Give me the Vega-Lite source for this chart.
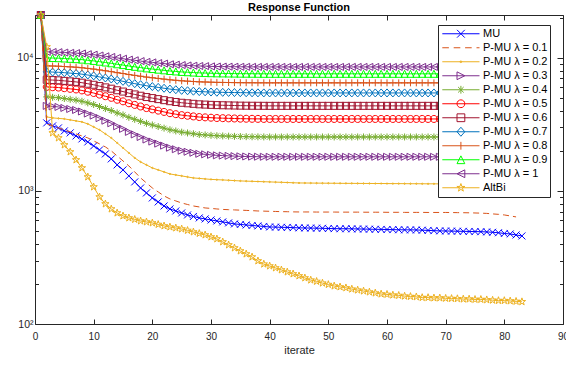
{
  "$schema": "https://vega.github.io/schema/vega-lite/v6.json",
  "width": 528,
  "height": 309,
  "autosize": {"type": "none"},
  "padding": {"left": 35, "top": 15, "right": 3, "bottom": 41},
  "title": {"text": "Response Function", "font": "Liberation Sans", "fontSize": 11, "fontWeight": "bold", "color": "#000000", "offset": -4, "anchor": "middle"},
  "config": {
    "view": {"stroke": null},
    "axis": {"domainColor": "#262626", "tickColor": "#262626", "labelColor": "#262626", "titleColor": "#262626", "labelFont": "Liberation Sans", "titleFont": "Liberation Sans", "grid": false, "domainWidth": 1, "tickWidth": 1}
  },
  "data": {"values": [
    {"it":1,"MU":21000,"L1":21000,"L2":21000,"L3":21000,"L4":21000,"L5":21000,"L6":21000,"L7":21000,"L8":21000,"L9":21000,"L10":21000,"AB":21000},
    {"it":2,"MU":3246,"L1":3189,"L2":3601,"L3":4355,"L4":5090,"L5":6050,"L6":6840,"L7":7850,"L8":8710,"L9":10000,"L10":11100,"AB":12096},
    {"it":3,"MU":3082,"L1":3082,"L2":3540,"L3":4317,"L4":5055,"L5":6017,"L6":6809,"L7":7821,"L8":8685,"L9":9970,"L10":11070,"AB":2730},
    {"it":4,"MU":2977,"L1":2977,"L2":3509,"L3":4278,"L4":5020,"L5":5983,"L6":6779,"L7":7792,"L8":8660,"L9":9945,"L10":11040,"AB":2503},
    {"it":5,"MU":2826,"L1":2875,"L2":3479,"L3":4204,"L4":4951,"L5":5918,"L6":6718,"L7":7737,"L8":8608,"L9":9890,"L10":10960,"AB":2218},
    {"it":6,"MU":2730,"L1":2777,"L2":3419,"L3":4130,"L4":4883,"L5":5851,"L6":6657,"L7":7680,"L8":8557,"L9":9835,"L10":10910,"AB":1965},
    {"it":7,"MU":2591,"L1":2683,"L2":3360,"L3":4059,"L4":4816,"L5":5787,"L6":6597,"L7":7626,"L8":8507,"L9":9780,"L10":10860,"AB":1711},
    {"it":8,"MU":2460,"L1":2591,"L2":3302,"L3":3953,"L4":4716,"L5":5692,"L6":6508,"L7":7541,"L8":8431,"L9":9700,"L10":10790,"AB":1489},
    {"it":9,"MU":2335,"L1":2503,"L2":3189,"L3":3815,"L4":4588,"L5":5567,"L6":6392,"L7":7433,"L8":8333,"L9":9594,"L10":10660,"AB":1274},
    {"it":10,"MU":2179,"L1":2376,"L2":3029,"L3":3682,"L4":4462,"L5":5445,"L6":6278,"L7":7326,"L8":8236,"L9":9489,"L10":10570,"AB":1072},
    {"it":11,"MU":2034,"L1":2256,"L2":2875,"L3":3524,"L4":4309,"L5":5296,"L6":6138,"L7":7194,"L8":8116,"L9":9359,"L10":10420,"AB":901},
    {"it":12,"MU":1898,"L1":2142,"L2":2683,"L3":3372,"L4":4163,"L5":5150,"L6":6001,"L7":7064,"L8":7997,"L9":9230,"L10":10280,"AB":799},
    {"it":13,"MU":1741,"L1":1999,"L2":2503,"L3":3227,"L4":4021,"L5":5009,"L6":5867,"L7":6937,"L8":7880,"L9":9104,"L10":10160,"AB":732},
    {"it":14,"MU":1569,"L1":1833,"L2":2296,"L3":3060,"L4":3857,"L5":4845,"L6":5710,"L7":6787,"L8":7742,"L9":8950,"L10":10000,"AB":683},
    {"it":15,"MU":1439,"L1":1681,"L2":2106,"L3":2928,"L4":3727,"L5":4712,"L6":5582,"L7":6665,"L8":7629,"L9":8830,"L10":9860,"AB":649},
    {"it":16,"MU":1297,"L1":1542,"L2":1931,"L3":2778,"L4":3574,"L5":4558,"L6":5433,"L7":6521,"L8":7495,"L9":8685,"L10":9700,"AB":627},
    {"it":17,"MU":1169,"L1":1390,"L2":1771,"L3":2658,"L4":3452,"L5":4433,"L6":5312,"L7":6403,"L8":7386,"L9":8565,"L10":9590,"AB":611},
    {"it":18,"MU":1053,"L1":1252,"L2":1652,"L3":2543,"L4":3334,"L5":4312,"L6":5193,"L7":6288,"L8":7278,"L9":8450,"L10":9460,"AB":595},
    {"it":19,"MU":966,"L1":1148,"L2":1569,"L3":2433,"L4":3220,"L5":4194,"L6":5077,"L7":6175,"L8":7172,"L9":8335,"L10":9330,"AB":585},
    {"it":20,"MU":886,"L1":1053,"L2":1489,"L3":2349,"L4":3133,"L5":4102,"L6":4987,"L7":6086,"L8":7088,"L9":8240,"L10":9250,"AB":575},
    {"it":21,"MU":827,"L1":983,"L2":1439,"L3":2268,"L4":3048,"L5":4013,"L6":4898,"L7":5999,"L8":7006,"L9":8150,"L10":9140,"AB":560},
    {"it":22,"MU":771,"L1":917,"L2":1390,"L3":2190,"L4":2964,"L5":3925,"L6":4811,"L7":5912,"L8":6924,"L9":8060,"L10":9060,"AB":546},
    {"it":23,"MU":732,"L1":871,"L2":1342,"L3":2113,"L4":2883,"L5":3839,"L6":4725,"L7":5827,"L8":6843,"L9":7970,"L10":8950,"AB":536},
    {"it":24,"MU":707,"L1":841,"L2":1319,"L3":2058,"L4":2824,"L5":3775,"L6":4661,"L7":5764,"L8":6783,"L9":7907,"L10":8890,"AB":527},
    {"it":25,"MU":683,"L1":812,"L2":1297,"L3":2005,"L4":2766,"L5":3713,"L6":4598,"L7":5702,"L8":6724,"L9":7840,"L10":8830,"AB":518},
    {"it":26,"MU":660,"L1":791,"L2":1274,"L3":1969,"L4":2728,"L5":3672,"L6":4557,"L7":5660,"L8":6684,"L9":7800,"L10":8770,"AB":505},
    {"it":27,"MU":643,"L1":771,"L2":1252,"L3":1935,"L4":2690,"L5":3632,"L6":4516,"L7":5619,"L8":6644,"L9":7757,"L10":8730,"AB":492},
    {"it":28,"MU":627,"L1":758,"L2":1242,"L3":1901,"L4":2653,"L5":3592,"L6":4476,"L7":5579,"L8":6605,"L9":7714,"L10":8690,"AB":479},
    {"it":29,"MU":616,"L1":745,"L2":1231,"L3":1884,"L4":2635,"L5":3572,"L6":4455,"L7":5558,"L8":6586,"L9":7690,"L10":8670,"AB":467},
    {"it":30,"MU":605,"L1":739,"L2":1221,"L3":1867,"L4":2617,"L5":3552,"L6":4435,"L7":5538,"L8":6566,"L9":7670,"L10":8630,"AB":451},
    {"it":31,"MU":595,"L1":732,"L2":1215,"L3":1851,"L4":2598,"L5":3532,"L6":4415,"L7":5518,"L8":6546,"L9":7650,"L10":8610,"AB":436},
    {"it":32,"MU":585,"L1":726,"L2":1210,"L3":1843,"L4":2590,"L5":3522,"L6":4405,"L7":5508,"L8":6537,"L9":7640,"L10":8600,"AB":414},
    {"it":33,"MU":575,"L1":723,"L2":1203,"L3":1835,"L4":2581,"L5":3512,"L6":4395,"L7":5498,"L8":6527,"L9":7630,"L10":8590,"AB":393},
    {"it":34,"MU":565,"L1":720,"L2":1196,"L3":1827,"L4":2572,"L5":3503,"L6":4385,"L7":5488,"L8":6517,"L9":7620,"L10":8580,"AB":373},
    {"it":35,"MU":560,"L1":717,"L2":1189,"L3":1820,"L4":2563,"L5":3493,"L6":4375,"L7":5478,"L8":6508,"L9":7610,"L10":8570,"AB":354},
    {"it":36,"MU":555,"L1":714,"L2":1185,"L3":1815,"L4":2558,"L5":3488,"L6":4370,"L7":5470,"L8":6503,"L9":7605,"L10":8565,"AB":336},
    {"it":37,"MU":550,"L1":711,"L2":1181,"L3":1811,"L4":2554,"L5":3484,"L6":4367,"L7":5464,"L8":6499,"L9":7600,"L10":8560,"AB":319},
    {"it":38,"MU":546,"L1":707,"L2":1177,"L3":1808,"L4":2550,"L5":3480,"L6":4364,"L7":5458,"L8":6495,"L9":7595,"L10":8555,"AB":298},
    {"it":39,"MU":541,"L1":705,"L2":1173,"L3":1806,"L4":2547,"L5":3477,"L6":4362,"L7":5453,"L8":6492,"L9":7590,"L10":8550,"AB":282},
    {"it":40,"MU":536,"L1":703,"L2":1169,"L3":1805,"L4":2545,"L5":3475,"L6":4360,"L7":5450,"L8":6490,"L9":7590,"L10":8550,"AB":273},
    {"it":41,"MU":535,"L1":701,"L2":1165,"L3":1805,"L4":2545,"L5":3475,"L6":4360,"L7":5450,"L8":6490,"L9":7590,"L10":8550,"AB":264},
    {"it":42,"MU":533,"L1":699,"L2":1161,"L3":1805,"L4":2545,"L5":3475,"L6":4360,"L7":5450,"L8":6490,"L9":7590,"L10":8550,"AB":255},
    {"it":43,"MU":532,"L1":698,"L2":1157,"L3":1805,"L4":2545,"L5":3475,"L6":4360,"L7":5450,"L8":6490,"L9":7590,"L10":8550,"AB":246},
    {"it":44,"MU":530,"L1":696,"L2":1152,"L3":1805,"L4":2545,"L5":3475,"L6":4360,"L7":5450,"L8":6490,"L9":7590,"L10":8550,"AB":238},
    {"it":45,"MU":528,"L1":695,"L2":1148,"L3":1805,"L4":2545,"L5":3475,"L6":4360,"L7":5450,"L8":6490,"L9":7590,"L10":8550,"AB":230},
    {"it":46,"MU":527,"L1":695,"L2":1147,"L3":1805,"L4":2545,"L5":3475,"L6":4360,"L7":5450,"L8":6490,"L9":7590,"L10":8550,"AB":222},
    {"it":47,"MU":526,"L1":695,"L2":1146,"L3":1805,"L4":2545,"L5":3475,"L6":4360,"L7":5450,"L8":6490,"L9":7590,"L10":8550,"AB":214},
    {"it":48,"MU":525,"L1":694,"L2":1145,"L3":1805,"L4":2545,"L5":3475,"L6":4360,"L7":5450,"L8":6490,"L9":7590,"L10":8550,"AB":209},
    {"it":49,"MU":524,"L1":694,"L2":1144,"L3":1805,"L4":2545,"L5":3475,"L6":4360,"L7":5450,"L8":6490,"L9":7590,"L10":8550,"AB":203},
    {"it":50,"MU":522,"L1":694,"L2":1143,"L3":1805,"L4":2545,"L5":3475,"L6":4360,"L7":5450,"L8":6490,"L9":7590,"L10":8550,"AB":198},
    {"it":51,"MU":521,"L1":694,"L2":1142,"L3":1805,"L4":2545,"L5":3475,"L6":4360,"L7":5450,"L8":6490,"L9":7590,"L10":8550,"AB":193},
    {"it":52,"MU":520,"L1":693,"L2":1141,"L3":1805,"L4":2545,"L5":3475,"L6":4360,"L7":5450,"L8":6490,"L9":7590,"L10":8550,"AB":190},
    {"it":53,"MU":520,"L1":693,"L2":1140,"L3":1805,"L4":2545,"L5":3475,"L6":4360,"L7":5450,"L8":6490,"L9":7590,"L10":8550,"AB":187},
    {"it":54,"MU":519,"L1":693,"L2":1140,"L3":1805,"L4":2545,"L5":3475,"L6":4360,"L7":5450,"L8":6490,"L9":7590,"L10":8550,"AB":183},
    {"it":55,"MU":518,"L1":693,"L2":1139,"L3":1805,"L4":2545,"L5":3475,"L6":4360,"L7":5450,"L8":6490,"L9":7590,"L10":8550,"AB":180},
    {"it":56,"MU":517,"L1":692,"L2":1138,"L3":1805,"L4":2545,"L5":3475,"L6":4360,"L7":5450,"L8":6490,"L9":7590,"L10":8550,"AB":177},
    {"it":57,"MU":516,"L1":692,"L2":1138,"L3":1805,"L4":2545,"L5":3475,"L6":4360,"L7":5450,"L8":6490,"L9":7590,"L10":8550,"AB":174},
    {"it":58,"MU":515,"L1":692,"L2":1137,"L3":1805,"L4":2545,"L5":3475,"L6":4360,"L7":5450,"L8":6490,"L9":7590,"L10":8550,"AB":171},
    {"it":59,"MU":514,"L1":692,"L2":1137,"L3":1805,"L4":2545,"L5":3475,"L6":4360,"L7":5450,"L8":6490,"L9":7590,"L10":8550,"AB":168},
    {"it":60,"MU":513,"L1":691,"L2":1136,"L3":1805,"L4":2545,"L5":3475,"L6":4360,"L7":5450,"L8":6490,"L9":7590,"L10":8550,"AB":167},
    {"it":61,"MU":512,"L1":691,"L2":1135,"L3":1805,"L4":2545,"L5":3475,"L6":4360,"L7":5450,"L8":6490,"L9":7590,"L10":8550,"AB":165},
    {"it":62,"MU":511,"L1":691,"L2":1135,"L3":1805,"L4":2545,"L5":3475,"L6":4360,"L7":5450,"L8":6490,"L9":7590,"L10":8550,"AB":164},
    {"it":63,"MU":510,"L1":690,"L2":1134,"L3":1805,"L4":2545,"L5":3475,"L6":4360,"L7":5450,"L8":6490,"L9":7590,"L10":8550,"AB":162},
    {"it":64,"MU":510,"L1":690,"L2":1133,"L3":1805,"L4":2545,"L5":3475,"L6":4360,"L7":5450,"L8":6490,"L9":7590,"L10":8550,"AB":161},
    {"it":65,"MU":509,"L1":690,"L2":1133,"L3":1805,"L4":2545,"L5":3475,"L6":4360,"L7":5450,"L8":6490,"L9":7590,"L10":8550,"AB":160},
    {"it":66,"MU":507,"L1":690,"L2":1132,"L3":1805,"L4":2545,"L5":3475,"L6":4360,"L7":5450,"L8":6490,"L9":7590,"L10":8550,"AB":158},
    {"it":67,"MU":505,"L1":689,"L2":1131,"L3":1805,"L4":2545,"L5":3475,"L6":4360,"L7":5450,"L8":6490,"L9":7590,"L10":8550,"AB":158},
    {"it":68,"MU":503,"L1":689,"L2":1131,"L3":1805,"L4":2545,"L5":3475,"L6":4360,"L7":5450,"L8":6490,"L9":7590,"L10":8550,"AB":157},
    {"it":69,"MU":501,"L1":689,"L2":1130,"L3":1805,"L4":2545,"L5":3475,"L6":4360,"L7":5450,"L8":6490,"L9":7590,"L10":8550,"AB":157},
    {"it":70,"MU":500,"L1":689,"L2":1129,"L3":1805,"L4":2545,"L5":3475,"L6":4360,"L7":5450,"L8":6490,"L9":7590,"L10":8550,"AB":156},
    {"it":71,"MU":499,"L1":688,"L2":1128,"L3":1805,"L4":2545,"L5":3475,"L6":4360,"L7":5450,"L8":6490,"L9":7590,"L10":8550,"AB":155.5},
    {"it":72,"MU":498,"L1":687,"L2":1127,"L3":1805,"L4":2545,"L5":3475,"L6":4360,"L7":5450,"L8":6490,"L9":7590,"L10":8550,"AB":155},
    {"it":73,"MU":497,"L1":686,"L2":1127,"L3":1805,"L4":2545,"L5":3475,"L6":4360,"L7":5450,"L8":6490,"L9":7590,"L10":8550,"AB":154},
    {"it":74,"MU":496,"L1":685,"L2":1126,"L3":1805,"L4":2545,"L5":3475,"L6":4360,"L7":5450,"L8":6490,"L9":7590,"L10":8550,"AB":154},
    {"it":75,"MU":495,"L1":683,"L2":1125,"L3":1805,"L4":2545,"L5":3475,"L6":4360,"L7":5450,"L8":6490,"L9":7590,"L10":8550,"AB":153},
    {"it":76,"MU":494,"L1":681,"L2":1125,"L3":1805,"L4":2545,"L5":3475,"L6":4360,"L7":5450,"L8":6490,"L9":7590,"L10":8550,"AB":153},
    {"it":77,"MU":492,"L1":678,"L2":1124,"L3":1805,"L4":2545,"L5":3475,"L6":4360,"L7":5450,"L8":6490,"L9":7590,"L10":8550,"AB":152},
    {"it":78,"MU":489,"L1":672,"L2":1123,"L3":1805,"L4":2545,"L5":3475,"L6":4360,"L7":5450,"L8":6490,"L9":7590,"L10":8550,"AB":151},
    {"it":79,"MU":485,"L1":667,"L2":1122,"L3":1805,"L4":2545,"L5":3475,"L6":4360,"L7":5450,"L8":6490,"L9":7590,"L10":8550,"AB":150},
    {"it":80,"MU":479,"L1":660,"L2":1122,"L3":1805,"L4":2545,"L5":3475,"L6":4360,"L7":5450,"L8":6490,"L9":7590,"L10":8550,"AB":150},
    {"it":81,"MU":475,"L1":649,"L2":1121,"L3":1805,"L4":2545,"L5":3475,"L6":4360,"L7":5450,"L8":6490,"L9":7590,"L10":8550,"AB":149},
    {"it":82,"MU":467,"L1":638,"L2":1120,"L3":1805,"L4":2545,"L5":3475,"L6":4360,"L7":5450,"L8":6490,"L9":7590,"L10":8550,"AB":148},
    {"it":83,"MU":459,"L2":1119,"L3":1805,"L4":2545,"L5":3475,"L6":4360,"L7":5450,"L8":6490,"L9":7590,"L10":8550,"AB":147}
  ]},
  "transform": [
    {"fold": ["MU", "L1", "L2", "L3", "L4", "L5", "L6", "L7", "L8", "L9", "L10", "AB"], "as": ["s", "v"]}
  ],
  "layer": [
    {
      "transform": [{"filter": "datum.s != 'L1'"}],
      "mark": {"type": "point", "filled": false, "opacity": 1, "strokeWidth": 1, "size": 49, "clip": false},
      "encoding": {
        "x": {"field": "it", "type": "quantitative", "scale": {"domain": [0, 90], "nice": false},
          "axis": {"orient": "top", "values": [0, 10, 20, 30, 40, 50, 60, 70, 80, 90], "tickSize": -5, "labels": false, "title": null}},
        "y": {"field": "v", "type": "quantitative", "scale": {"type": "log", "domain": [100, 21000], "nice": false},
          "axis": {"orient": "right", "values": [100, 200, 300, 400, 500, 600, 700, 800, 900, 1000, 2000, 3000, 4000, 5000, 6000, 7000, 8000, 9000, 10000, 20000],
            "tickSize": {"condition": {"test": "datum.value == 100 || datum.value == 1000 || datum.value == 10000", "value": -6}, "value": -3.5},
            "labels": false, "title": null}},
        "color": {"field": "s", "type": "nominal",
          "scale": {"domain": ["MU", "L1", "L2", "L3", "L4", "L5", "L6", "L7", "L8", "L9", "L10", "AB"],
            "range": ["#0000FF", "#D95319", "#EDB120", "#7E2F8E", "#77AC30", "#FF0000", "#A2142F", "#0072BD", "#D95319", "#00FF00", "#7E2F8E", "#EDB120"]},
          "legend": {
            "orient": "none", "legendX": 403, "legendY": 10, "direction": "vertical",
            "title": null, "padding": 2, "rowPadding": 0, "clipHeight": 13.5,
            "symbolSize": 144, "symbolStrokeWidth": 1, "labelOffset": 30,
            "labelFont": "Liberation Sans", "labelFontSize": 11, "labelColor": "#000000",
            "strokeColor": "#262626", "fillColor": "#FFFFFF", "cornerRadius": 0,
            "labelExpr": "(datum.label == 'MU' ? 'MU' : datum.label == 'AB' ? 'AltBi' : datum.label == 'L10' ? 'P-MU λ = 1' : 'P-MU λ = 0.' + substring(datum.label, 1)) + '   '",
            "symbolType": {"expr": "datum.value == 'MU' ? 'M-0.7,0L5.5,0M1.75,-0.65L3.05,0.65M1.75,0.65L3.05,-0.65' : datum.value == 'L1' ? 'M-0.7,0L0.4,0M1.2,0L2.3,0M3.1,0L4.2,0M5,0L5.5,0' : datum.value == 'L2' ? 'M-0.7,0L5.5,0M2.25,0A0.15,0.15 0 1,0 2.55,0A0.15,0.15 0 1,0 2.25,0' : datum.value == 'L3' ? 'M-0.7,0L5.5,0M1.75,-0.65L3.05,0L1.75,0.65Z' : datum.value == 'L4' ? 'M-0.7,0L5.5,0M2.4,-0.65L2.4,0.65M1.94,-0.46L2.86,0.46M1.94,0.46L2.86,-0.46' : datum.value == 'L5' ? 'M-0.7,0L5.5,0M1.75,0A0.65,0.65 0 1,0 3.05,0A0.65,0.65 0 1,0 1.75,0' : datum.value == 'L6' ? 'M-0.7,0L5.5,0M1.75,-0.65H3.05V0.65H1.75Z' : datum.value == 'L7' ? 'M-0.7,0L5.5,0M2.4,-0.75L3.05,0L2.4,0.75L1.75,0Z' : datum.value == 'L8' ? 'M-0.7,0L5.5,0M2.4,-0.65L2.4,0.65' : datum.value == 'L9' ? 'M-0.7,0L5.5,0M2.4,-0.65L3.05,0.65L1.75,0.65Z' : datum.value == 'L10' ? 'M-0.7,0L5.5,0M3.05,-0.65L1.75,0L3.05,0.65Z' : 'M-0.7,0L5.5,0M2.4,-0.7L2.559,-0.218L3.066,-0.216L2.657,0.083L2.811,0.566L2.4,0.27L1.989,0.566L2.143,0.083L1.734,-0.216L2.241,-0.218Z'"},
            "encode": {"symbols": {"fill": {"value": "transparent"}}}
          }},
        "shape": {"field": "s", "type": "nominal", "legend": null,
          "scale": {"domain": ["AB", "MU", "L1", "L2", "L3", "L4", "L5", "L6", "L7", "L8", "L9", "L10"],
            "range": [
              "M0,-1.1L0.25,-0.343L1.046,-0.34L0.404,0.131L0.647,0.89L0,0.425L-0.647,0.89L-0.404,0.131L-1.046,-0.34L-0.25,-0.343Z",
              "M-1,-1L1,1M-1,1L1,-1",
              "M0,0",
              "M-0.2,0A0.2,0.2 0 1,0 0.2,0A0.2,0.2 0 1,0 -0.2,0",
              "M-1,-1L1,0L-1,1Z",
              "M-1,0L1,0M0,-1L0,1M-0.7,-0.7L0.7,0.7M-0.7,0.7L0.7,-0.7",
              "M-1,0A1,1 0 1,0 1,0A1,1 0 1,0 -1,0",
              "M-1,-1H1V1H-1Z",
              "M0,-1.15L1,0L0,1.15L-1,0Z",
              "M-1,0L1,0M0,-1L0,1",
              "M0,-1L1,1L-1,1Z",
              "M1,-1L-1,0L1,1Z"
            ]}}
      }
    },
    {
      "transform": [{"filter": "datum.s != 'L1'"}],
      "mark": {"type": "line", "strokeWidth": 1, "clip": false},
      "encoding": {
        "x": {"field": "it", "type": "quantitative", "scale": {"domain": [0, 90], "nice": false},
          "axis": {"orient": "bottom", "values": [0, 10, 20, 30, 40, 50, 60, 70, 80, 90], "tickSize": -5, "labelPadding": 12, "labelFontSize": 10, "labelFlush": false, "labelOverlap": false, "title": "iterate", "titleFontSize": 11, "titleFontWeight": "normal", "titlePadding": 3}},
        "y": {"field": "v", "type": "quantitative", "scale": {"type": "log", "domain": [100, 21000], "nice": false},
          "axis": {"orient": "left", "values": [100, 200, 300, 400, 500, 600, 700, 800, 900, 1000, 2000, 3000, 4000, 5000, 6000, 7000, 8000, 9000, 10000, 20000],
            "tickSize": {"condition": {"test": "datum.value == 100 || datum.value == 1000 || datum.value == 10000", "value": -6}, "value": -3.5},
            "labelExpr": "datum.value == 100 ? '10²' : datum.value == 1000 ? '10³' : datum.value == 10000 ? '10⁴' : ''",
            "labelPadding": 8, "labelFontSize": 10.5, "labelOverlap": false, "title": null}},
        "color": {"field": "s", "type": "nominal",
          "scale": {"domain": ["MU", "L1", "L2", "L3", "L4", "L5", "L6", "L7", "L8", "L9", "L10", "AB"],
            "range": ["#0000FF", "#D95319", "#EDB120", "#7E2F8E", "#77AC30", "#FF0000", "#A2142F", "#0072BD", "#D95319", "#00FF00", "#7E2F8E", "#EDB120"]}}
      }
    },
    {
      "transform": [{"filter": "datum.s == 'L1'"}],
      "mark": {"type": "line", "strokeWidth": 1, "strokeDash": [6, 4], "clip": false},
      "encoding": {
        "x": {"field": "it", "type": "quantitative", "scale": {"domain": [0, 90], "nice": false}, "axis": null},
        "y": {"field": "v", "type": "quantitative", "scale": {"type": "log", "domain": [100, 21000], "nice": false}, "axis": null},
        "color": {"field": "s", "type": "nominal",
          "scale": {"domain": ["MU", "L1", "L2", "L3", "L4", "L5", "L6", "L7", "L8", "L9", "L10", "AB"],
            "range": ["#0000FF", "#D95319", "#EDB120", "#7E2F8E", "#77AC30", "#FF0000", "#A2142F", "#0072BD", "#D95319", "#00FF00", "#7E2F8E", "#EDB120"]}}
      }
    }
  ]
}
